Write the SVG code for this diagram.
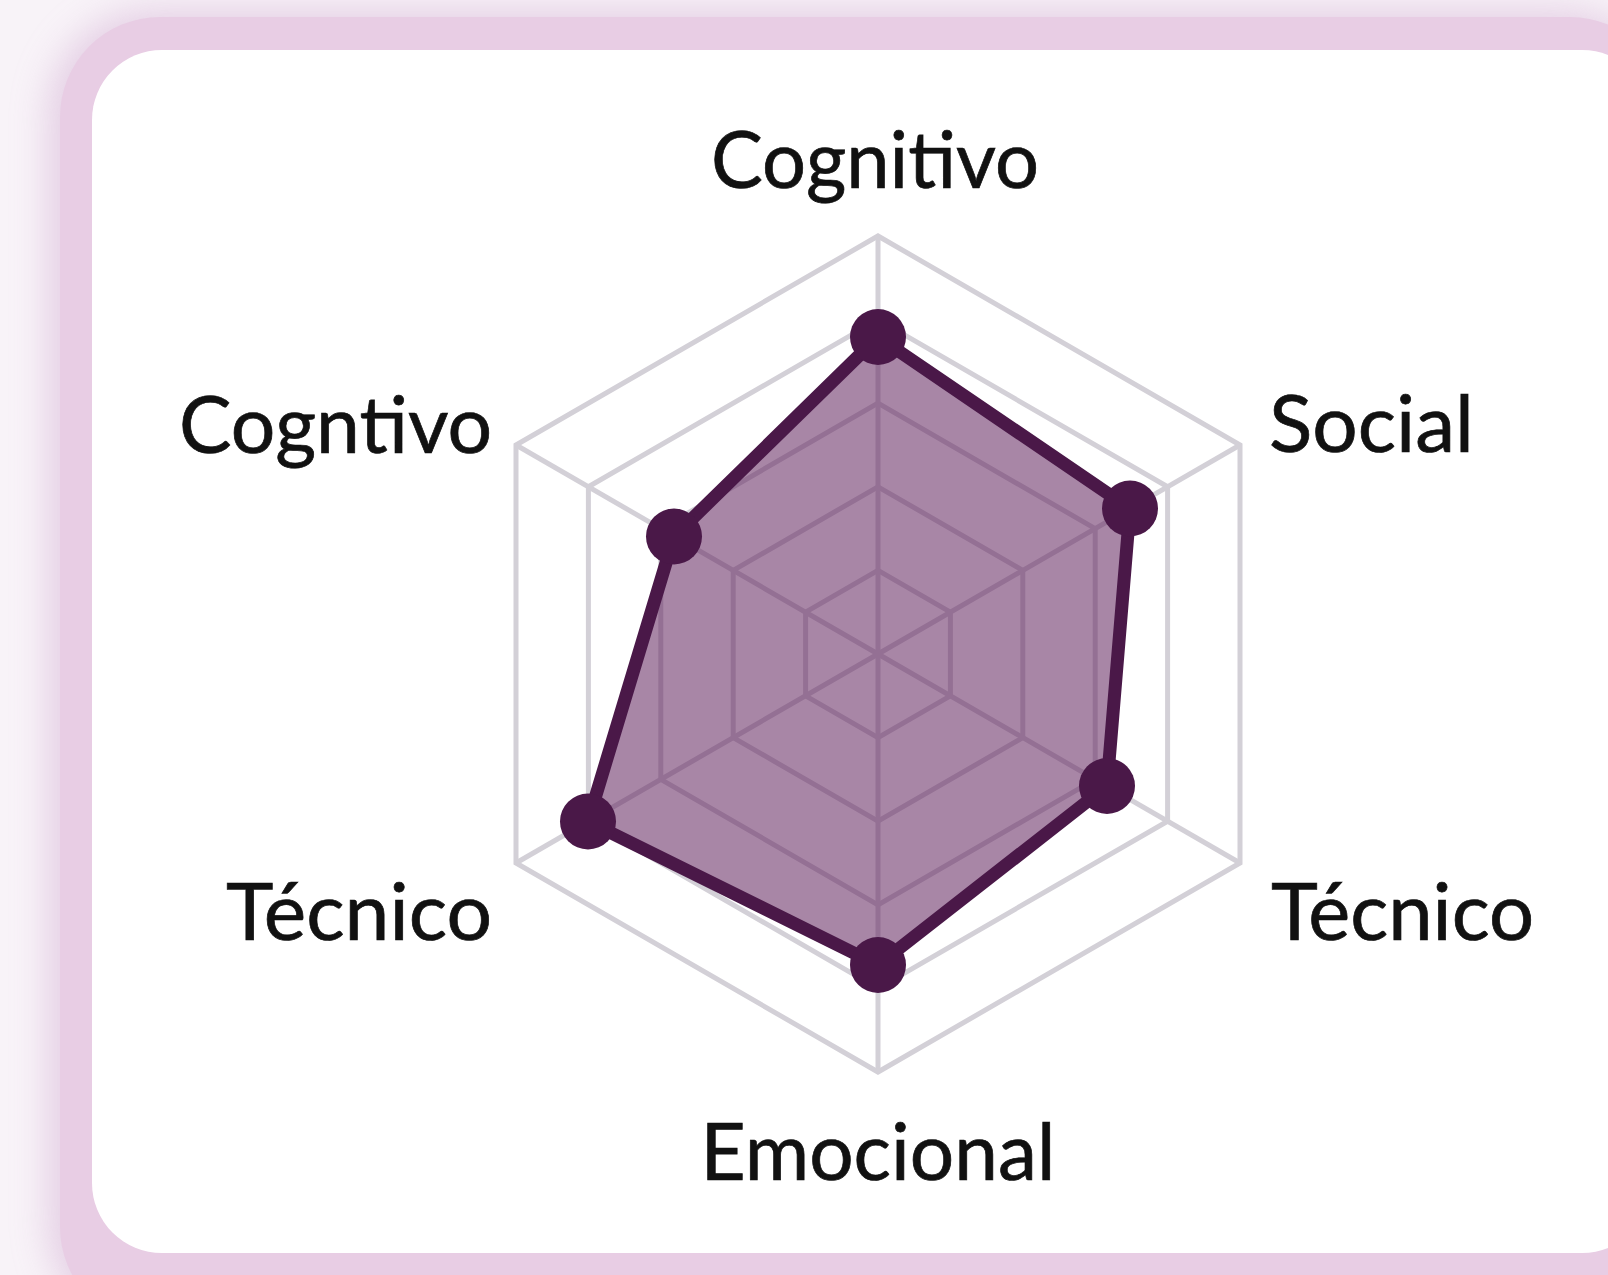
<svg xmlns="http://www.w3.org/2000/svg" width="1608" height="1275" viewBox="0 0 1608 1275">
  <defs>
    <filter id="shadow" x="-10%" y="-10%" width="120%" height="120%">
      <feGaussianBlur stdDeviation="18"/>
    </filter>
    <style>
      .grid { fill: none; stroke: #d3d0d7; stroke-width: 5; stroke-linejoin: miter; }
      .label { font-family: Lato, "Open Sans", "Liberation Sans", sans-serif; font-size: 80px; fill: #111111; stroke: #111111; stroke-width: 0.7; }
      .data { fill: #5f1f5b; fill-opacity: 0.54; stroke: #4a1848; stroke-width: 13; stroke-linejoin: round; }
      .dot { fill: #4a1848; }
    </style>
  </defs>

  <g id="background">
    <rect x="0" y="0" width="1608" height="1275" fill="#f8f3f8"/>
    <rect x="48" y="10" width="1620" height="1320" rx="105" fill="#dcbfdc" opacity="0.7" filter="url(#shadow)"/>
    <rect x="60" y="17" width="1610" height="1310" rx="100" fill="#e8cde4"/>
    <rect x="92" y="50" width="1560" height="1203" rx="70" fill="#ffffff"/>
  </g>

  <g id="radar" transform="translate(878 654)">
    <g id="grid">
      <polygon class="grid" points="0,-418 362,-209 362,209 0,418 -362,209 -362,-209"/>
      <polygon class="grid" points="0,-334.4 289.6,-167.2 289.6,167.2 0,334.4 -289.6,167.2 -289.6,-167.2"/>
      <polygon class="grid" points="0,-250.8 217.2,-125.4 217.2,125.4 0,250.8 -217.2,125.4 -217.2,-125.4"/>
      <polygon class="grid" points="0,-167.2 144.8,-83.6 144.8,83.6 0,167.2 -144.8,83.6 -144.8,-83.6"/>
      <polygon class="grid" points="0,-83.6 72.4,-41.8 72.4,41.8 0,83.6 -72.4,41.8 -72.4,-41.8"/>
      <line class="grid" x1="0" y1="0" x2="0" y2="-418"/>
      <line class="grid" x1="0" y1="0" x2="362" y2="-209"/>
      <line class="grid" x1="0" y1="0" x2="362" y2="209"/>
      <line class="grid" x1="0" y1="0" x2="0" y2="418"/>
      <line class="grid" x1="0" y1="0" x2="-362" y2="209"/>
      <line class="grid" x1="0" y1="0" x2="-362" y2="-209"/>
    </g>
    <g id="series">
      <polygon class="data" points="0,-317 252,-145.5 229,132 0,311 -290,167.5 -204,-117.5"/>
      <circle class="dot" cx="0" cy="-317" r="28"/>
      <circle class="dot" cx="252" cy="-145.5" r="28"/>
      <circle class="dot" cx="229" cy="132" r="28"/>
      <circle class="dot" cx="0" cy="311" r="28"/>
      <circle class="dot" cx="-290" cy="167.5" r="28"/>
      <circle class="dot" cx="-204" cy="-117.5" r="28"/>
    </g>
  </g>

  <g id="labels">
    <text id="label-cognitivo" class="label" x="875" y="188" text-anchor="middle" textLength="328" lengthAdjust="spacingAndGlyphs">Cognitivo</text>
    <text id="label-social" class="label" x="1269" y="452" textLength="205" lengthAdjust="spacingAndGlyphs">Social</text>
    <text id="label-tecnico-right" class="label" x="1271" y="940" textLength="263" lengthAdjust="spacingAndGlyphs">Técnico</text>
    <text id="label-emocional" class="label" x="878" y="1180" text-anchor="middle" textLength="355" lengthAdjust="spacingAndGlyphs">Emocional</text>
    <text id="label-tecnico-left" class="label" x="492" y="940" text-anchor="end" textLength="266" lengthAdjust="spacingAndGlyphs">Técnico</text>
    <text id="label-cogntivo" class="label" x="492" y="453" text-anchor="end" textLength="313" lengthAdjust="spacingAndGlyphs">Cogntivo</text>
  </g>
</svg>
